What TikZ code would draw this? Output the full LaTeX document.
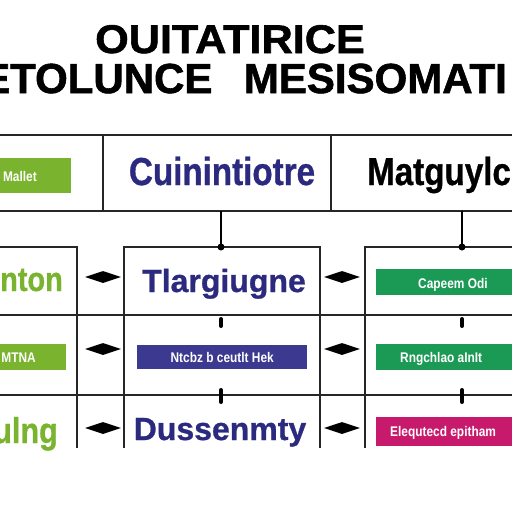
\documentclass[tikz,border=0pt]{standalone}
\usepackage{fontspec}
\setmainfont{Liberation Sans}
\newfontfamily\titlefont{Liberation Sans Bold}[FakeStretch=1.08,FakeBold=1.4]
\newfontfamily\bannerfont{Liberation Sans Bold}[FakeBold=1.4]
\newfontfamily\narrowfont{Liberation Sans Bold}[FakeStretch=0.85,FakeBold=0.8]
\newfontfamily\boldfont{Liberation Sans Bold}[FakeBold=0.8]
\newfontfamily\smallfont{Liberation Sans Bold}[FakeStretch=0.85]
\usetikzlibrary{shapes.geometric}
\definecolor{leaf}{HTML}{7AB32E}
\definecolor{ink}{HTML}{2B2A7F}
\definecolor{indigo}{HTML}{3C3990}
\definecolor{jade}{HTML}{1B9A56}
\definecolor{berry}{HTML}{C81A6C}
\tikzset{
  grid/.style={line width=1.3pt,black!85},
  dia/.style={diamond,fill=black,inner sep=0pt,minimum width=36pt,minimum height=12pt},
  stub/.style={line width=1.3pt},
  knob/.style={line width=4pt,line cap=round},
  band/.style={rectangle,inner sep=0pt,anchor=north west},
  bandtext/.style={text=white,font=\smallfont\fontsize{14}{14}\selectfont,anchor=base west,inner sep=0pt}
}
\begin{document}
\begin{tikzpicture}[x=1pt,y=-1pt,every node/.style={inner sep=0pt}]
  \clip (0,0) rectangle (512,512);
  \fill[white] (0,0) rectangle (512,512);
  % title
  \node (title1) [anchor=base,font=\titlefont\fontsize{40}{40}\selectfont] at (230,53) {OUITATIRICE};
  \node (title2) [anchor=base west,font=\bannerfont\fontsize{42}{42}\selectfont] at (-18,93) {ETOLUNCE\hspace{0.75em}MESISOMATI};
  % header row
  \draw[grid] (0,135) -- (512,135);
  \draw[grid] (0,211) -- (512,211);
  \draw[grid] (103,135) -- (103,211);
  \draw[grid] (331,135) -- (331,211);
  \node (hbox) [band,fill=leaf,minimum width=71pt,minimum height=35pt] at (0,158) {};
  \node (htxt) [bandtext,anchor=base east] at (37,181) {Mallet};
  \node (hmid) [anchor=base,text=ink,font=\narrowfont\fontsize{39}{39}\selectfont] at (222,185) {Cuinintiotre};
  \node (hright) [anchor=base west,font=\narrowfont\fontsize{39}{39}\selectfont] at (367,185) {Matguylc};
  \coordinate (hm) at (221,211);
  \coordinate (hr) at (462,211);
  % columns
  \draw[grid] (0,247) -- (77,247) -- (77,448);
  \draw[grid] (124,448) -- (124,247) -- (320,247) -- (320,448);
  \draw[grid] (365,448) -- (365,247) -- (512,247);
  \draw[grid] (0,315) -- (512,315);
  \draw[grid] (0,395) -- (512,395);
  \coordinate (tm) at (221,247);
  \coordinate (tr) at (462,247);
  \draw[stub] (hm) -- (tm);
  \draw[stub] (hr) -- (tr);
  \fill (tm) circle (3.5pt);
  \fill (tr) circle (3.5pt);
  % knobs on the row lines
  \foreach \x in {221,462} {
    \draw[knob] (\x,319) -- (\x,326);
    \draw[knob] (\x,390) -- (\x,402);
  }
  % left column
  \node (l1) [anchor=base east,text=leaf,font=\narrowfont\fontsize{34}{34}\selectfont] at (63,291) {nton};
  \node (l2box) [band,fill=leaf,minimum width=66pt,minimum height=26pt] at (0,344) {};
  \node (l2txt) [bandtext,anchor=base east] at (36,362) {MTNA};
  \node (l3) [anchor=base east,text=leaf,font=\narrowfont\fontsize{36}{36}\selectfont] at (58,443) {ulng};
  % middle column
  \node (m1) [anchor=base,text=ink,font=\boldfont\fontsize{32}{32}\selectfont] at (224,292) {Tlargiugne};
  \node (m2box) [band,fill=indigo,minimum width=170pt,minimum height=24pt] at (137,345) {};
  \node (m2txt) [bandtext,anchor=base] at (m2box.center |- 0,362) {Ntcbz b ceutlt Hek};
  \node (m3) [anchor=base,text=ink,font=\boldfont\fontsize{32}{32}\selectfont] at (220,440) {Dussenmty};
  % right column
  \node (r1box) [band,fill=jade,minimum width=150pt,minimum height=26pt] at (376,269) {};
  \node (r1txt) [bandtext] at (418,288) {Capeem Odi};
  \node (r2box) [band,fill=jade,minimum width=150pt,minimum height=26pt] at (376,344) {};
  \node (r2txt) [bandtext] at (400,362) {Rngchlao aInIt};
  \node (r3box) [band,fill=berry,minimum width=150pt,minimum height=29pt] at (376,417) {};
  \node (r3txt) [bandtext] at (390,436) {Elequtecd epitham};
  % diamonds
  \foreach \y [count=\i] in {277,349,428} {
    \node (dl\i) [dia] at (103,\y) {};
    \node (dr\i) [dia] at (342,\y) {};
  }
\end{tikzpicture}
\end{document}
